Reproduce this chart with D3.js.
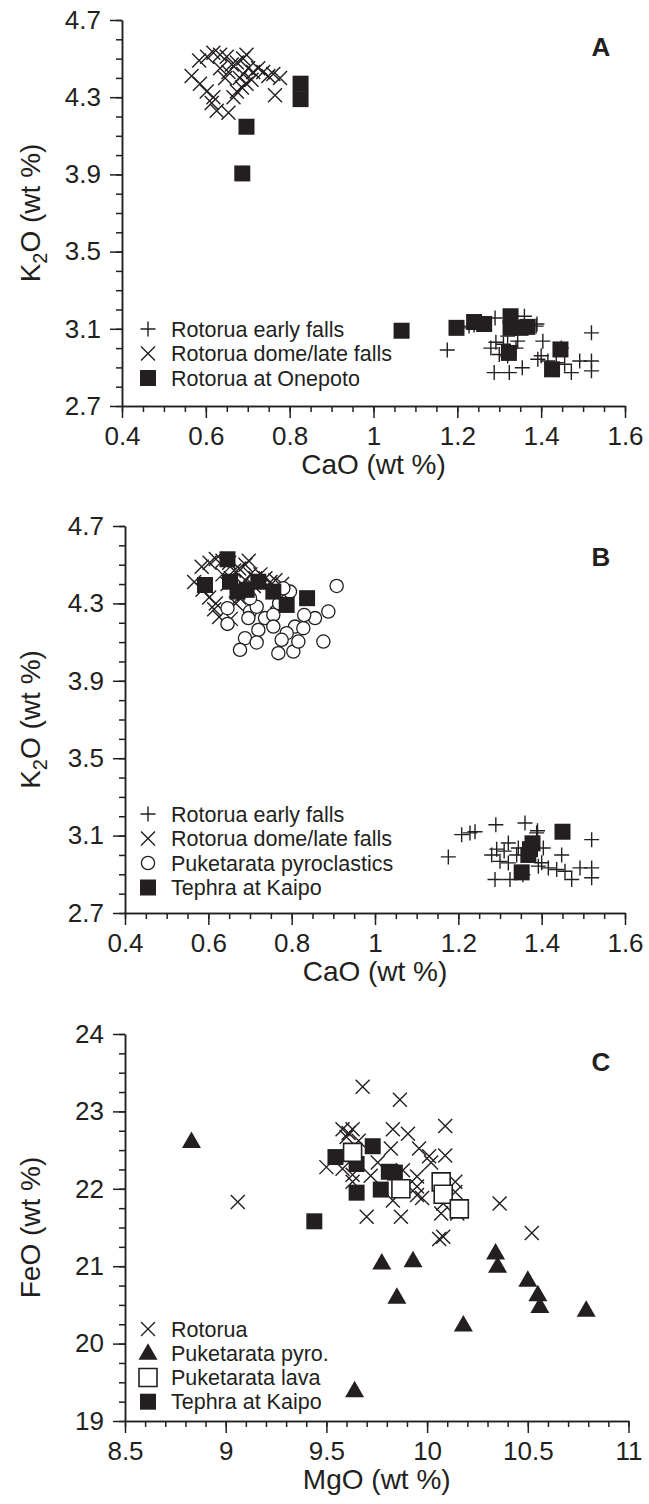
<!DOCTYPE html>
<html>
<head>
<meta charset="utf-8">
<script src="https://cdn.jsdelivr.net/npm/d3@7"></script>
<style>
  body{margin:0;background:#fff;}
  text{font-family:"Liberation Sans",Arial,Helvetica,sans-serif;fill:#231f20;}
</style>
</head>
<body>
<div id="graficos"></div>
<script>
// tick labels
const caoTicks=[0.4,0.6,0.8,1,1.2,1.4,1.6];
const k2oTicks=[4.7,4.3,3.9,3.5,3.1,2.7];
const mgoTicks=[8.5,9,9.5,10,10.5,11];
const feoTicks=[24,23,22,21,20,19];

// [CaO, K2O]  (same Rotorua data in A and B)
const earlyFalls=[[1.176,2.99],[1.208,3.105],[1.228,3.114],[1.24,3.12],[1.28,3.0],[1.292,3.03],[1.30,2.967],
  [1.29,3.156],[1.32,3.062],[1.32,2.959],[1.34,3.0],[1.344,3.036],[1.288,2.873],[1.324,2.873],[1.36,3.165],
  [1.388,3.114],[1.39,3.125],[1.404,3.036],[1.448,3.0],[1.392,2.942],[1.40,2.96],[1.416,2.933],[1.436,2.925],
  [1.456,2.916],[1.472,2.873],[1.492,2.933],[1.52,3.079],[1.52,2.933],[1.52,2.882],[1.355,2.898],[1.31,3.02]];
const domeLate=[[0.566,4.41],[0.584,4.49],[0.603,4.51],[0.618,4.53],[0.634,4.52],[0.650,4.51],[0.662,4.47],
  [0.674,4.48],[0.689,4.50],[0.697,4.52],[0.701,4.45],[0.713,4.43],[0.725,4.45],[0.737,4.43],[0.749,4.41],
  [0.761,4.42],[0.777,4.40],[0.765,4.31],[0.586,4.37],[0.602,4.33],[0.614,4.27],[0.626,4.23],[0.654,4.22],
  [0.618,4.30],[0.666,4.30],[0.674,4.33],[0.686,4.35],[0.697,4.37],[0.709,4.39],[0.654,4.43],[0.634,4.45],
  [0.646,4.40],[0.681,4.40],[0.689,4.42]];
const onepoto=[[0.826,4.37],[0.826,4.29],[0.697,4.147],[0.687,3.905],[1.067,3.09],[1.198,3.105],[1.24,3.135],
  [1.264,3.125],[1.327,3.165],[1.327,3.105],[1.351,3.105],[1.367,3.11],[1.323,2.975],[1.446,2.993],[1.426,2.89]];
const pyroclastics=[[0.646,4.275],[0.646,4.194],[0.70,4.258],[0.716,4.283],[0.736,4.224],[0.756,4.241],
  [0.796,4.361],[0.808,4.18],[0.828,4.172],[0.856,4.224],[0.888,4.258],[0.908,4.39],[0.876,4.103],[0.788,4.146],
  [0.72,4.163],[0.688,4.12],[0.676,4.06],[0.716,4.098],[0.768,4.043],[0.804,4.051],[0.816,4.103],[0.776,4.112],
  [0.756,4.18],[0.696,4.224],[0.78,4.378],[0.70,4.327],[0.83,4.24],[0.77,4.30]];
const kaipoB=[[0.646,4.528],[0.592,4.395],[0.652,4.412],[0.670,4.361],[0.692,4.370],[0.720,4.412],
  [0.756,4.361],[0.788,4.292],[0.837,4.327],[1.378,3.06],[1.372,3.03],[1.368,3.0],[1.352,2.91],[1.45,3.12]];

// [MgO, FeO]
const rotoruaC=[[9.68,23.32],[9.865,23.15],[10.09,22.81],[9.58,22.77],[9.63,22.77],[9.83,22.77],[9.905,22.71],
  [9.60,22.67],[9.82,22.52],[9.96,22.52],[10.01,22.42],[10.09,22.43],[10.02,22.34],[9.50,22.28],[9.755,22.34],
  [9.58,22.26],[9.63,22.18],[9.72,22.17],[9.88,22.24],[9.95,22.16],[10.14,22.09],[9.63,22.09],[9.95,22.03],
  [9.95,21.92],[10.14,21.96],[9.83,21.85],[10.08,21.81],[10.07,21.68],[10.15,21.68],[9.70,21.64],[9.87,21.64],
  [10.36,21.81],[9.06,21.83],[10.52,21.43],[10.06,21.35],[10.08,21.38],[9.975,21.88],[9.61,22.72],[9.66,22.62]];
const pyroC=[[8.83,22.61],[9.775,21.04],[9.93,21.07],[9.85,20.6],[10.34,21.17],[10.35,21.0],[10.5,20.82],
  [10.55,20.63],[10.56,20.48],[10.79,20.43],[10.18,20.24],[9.64,19.39]];
const lavaC=[[9.63,22.47],[9.87,22.0],[10.07,22.09],[10.08,21.93],[10.16,21.74]];
const kaipoC=[[9.545,22.41],[9.65,22.32],[9.73,22.55],[9.65,21.95],[9.77,21.99],[9.81,22.22],[9.84,22.21],[9.44,21.58]];

const cor='#231f20';
const W=649, H=1504;

const svg=d3.select('#graficos').append('svg')
  .attr('width',W).attr('height',H);

// marker shapes
function simbolo(tipo){
  if(tipo==='plus') return 'M-7.5,0H7.5M0,-7.5V7.5';
  if(tipo==='cross') return 'M-7,-7L7,7M-7,7L7,-7';
  if(tipo==='sqf') return 'M-8,-8H8V8H-8Z';
  if(tipo==='sqo') return 'M-9,-9H9V9H-9Z';
  if(tipo==='tri') return 'M0,-10L9.5,6.5H-9.5Z';
  return '';
}

function desenha(g,tipo,x,y){
  if(tipo==='circ'){
    g.append('circle').attr('cx',x).attr('cy',y).attr('r',6.6)
      .attr('fill','#fff').attr('stroke',cor).attr('stroke-width',1.3);
    return;
  }
  const p=g.append('path').attr('d',simbolo(tipo)).attr('transform',`translate(${x},${y})`);
  if(tipo==='plus'||tipo==='cross') p.attr('fill','none').attr('stroke',cor).attr('stroke-width',1.4);
  else if(tipo==='sqo') p.attr('fill','#fff').attr('stroke',cor).attr('stroke-width',1.6);
  else p.attr('fill',cor);
}

const fmt=d=>String(+d.toFixed(2));

const paineis=[
  {letra:'A', xr:[122,625], yr:[406,20], xd:[0.4,1.6], yd:[2.7,4.7], xt:caoTicks, yt:k2oTicks,
   xmin:0.05, ymin:0.1, xtit:'CaO (wt %)', ytit:'K2O',
   series:[['plus',earlyFalls,'Rotorua early falls'],['cross',domeLate,'Rotorua dome/late falls'],['sqf',onepoto,'Rotorua at Onepoto']],
   leg:[329,353.5,378], letraY:47},
  {letra:'B', xr:[125,625], yr:[913,526], xd:[0.4,1.6], yd:[2.7,4.7], xt:caoTicks, yt:k2oTicks,
   xmin:0.05, ymin:0.1, xtit:'CaO (wt %)', ytit:'K2O',
   series:[['plus',earlyFalls,'Rotorua early falls'],['cross',domeLate,'Rotorua dome/late falls'],
           ['circ',pyroclastics,'Puketarata pyroclastics'],['sqf',kaipoB,'Tephra at Kaipo']],
   leg:[814,838.5,863,887.5], letraY:557},
  {letra:'C', xr:[125,628.5], yr:[1421,1034], xd:[8.5,11], yd:[19,24], xt:mgoTicks, yt:feoTicks,
   xmin:0.1, ymin:0.25, xtit:'MgO (wt %)', ytit:'FeO',
   series:[['cross',rotoruaC,'Rotorua'],['tri',pyroC,'Puketarata pyro.'],['sqf',kaipoC,'Tephra at Kaipo'],['sqo',lavaC,'Puketarata lava']],
   legOrdem:[0,1,3,2],
   leg:[1329,1353.3,1377.5,1401.7], letraY:1062}
];

for(const p of paineis){
  const x=d3.scaleLinear().domain(p.xd).range(p.xr);
  const y=d3.scaleLinear().domain(p.yd).range(p.yr);
  const g=svg.append('g');

  const xMenor=d3.range(p.xd[0],p.xd[1]+1e-9,p.xmin).map(v=>+v.toFixed(3));
  const yMenor=d3.range(p.yd[0],p.yd[1]+1e-9,p.ymin).map(v=>+v.toFixed(3));

  // minor ticks
  g.append('g').attr('transform',`translate(0,${p.yr[0]})`)
    .call(d3.axisBottom(x).tickValues(xMenor).tickSize(6).tickSizeOuter(0).tickFormat(''));
  g.append('g').attr('transform',`translate(${p.xr[0]},0)`)
    .call(d3.axisLeft(y).tickValues(yMenor).tickSize(6).tickSizeOuter(0).tickFormat(''));
  // major ticks
  g.append('g').attr('class','eixo').attr('transform',`translate(0,${p.yr[0]})`)
    .call(d3.axisBottom(x).tickValues(p.xt).tickSize(12).tickSizeOuter(0).tickPadding(9).tickFormat(fmt));
  g.append('g').attr('class','eixo').attr('transform',`translate(${p.xr[0]},0)`)
    .call(d3.axisLeft(y).tickValues(p.yt).tickSize(12).tickSizeOuter(0).tickPadding(9).tickFormat(fmt));

  g.selectAll('.domain,.tick line').attr('stroke',cor).attr('stroke-width',1.5);
  g.selectAll('.eixo text').attr('font-size',26).attr('fill',cor)
    .style('font-family','"Liberation Sans",Arial,sans-serif');

  // axis titles
  g.append('text').attr('x',(p.xr[0]+p.xr[1])/2).attr('y',p.yr[0]+68)
    .attr('text-anchor','middle').attr('font-size',28).text(p.xtit);
  const yt=g.append('text')
    .attr('transform',`translate(40,${(p.yr[0]+p.yr[1])/2}) rotate(-90)`)
    .attr('text-anchor','middle').attr('font-size',28);
  if(p.ytit==='K2O'){
    yt.append('tspan').text('K');
    yt.append('tspan').attr('font-size',20).attr('dy',7).text('2');
    yt.append('tspan').attr('dy',-7).text('O (wt %)');
  } else {
    yt.text(p.ytit+' (wt %)');
  }

  // panel letter
  g.append('text').attr('x',601).attr('y',p.letraY).attr('dy','0.35em')
    .attr('text-anchor','middle').attr('font-size',26).attr('font-weight','bold').text(p.letra);

  // points
  const pts=g.append('g');
  for(const s of p.series){
    for(const d of s[1]) desenha(pts,s[0],x(d[0]),y(d[1]));
  }

  // legend
  const ordem=p.legOrdem||p.series.map((s,i)=>i);
  ordem.forEach((si,i)=>{
    const s=p.series[si];
    const ly=p.leg[i];
    desenha(g,s[0],148,ly);
    g.append('text').attr('x',171).attr('y',ly).attr('dy','0.36em')
      .attr('font-size',21.5).text(s[2]);
  });
}
</script>
</body>
</html>
